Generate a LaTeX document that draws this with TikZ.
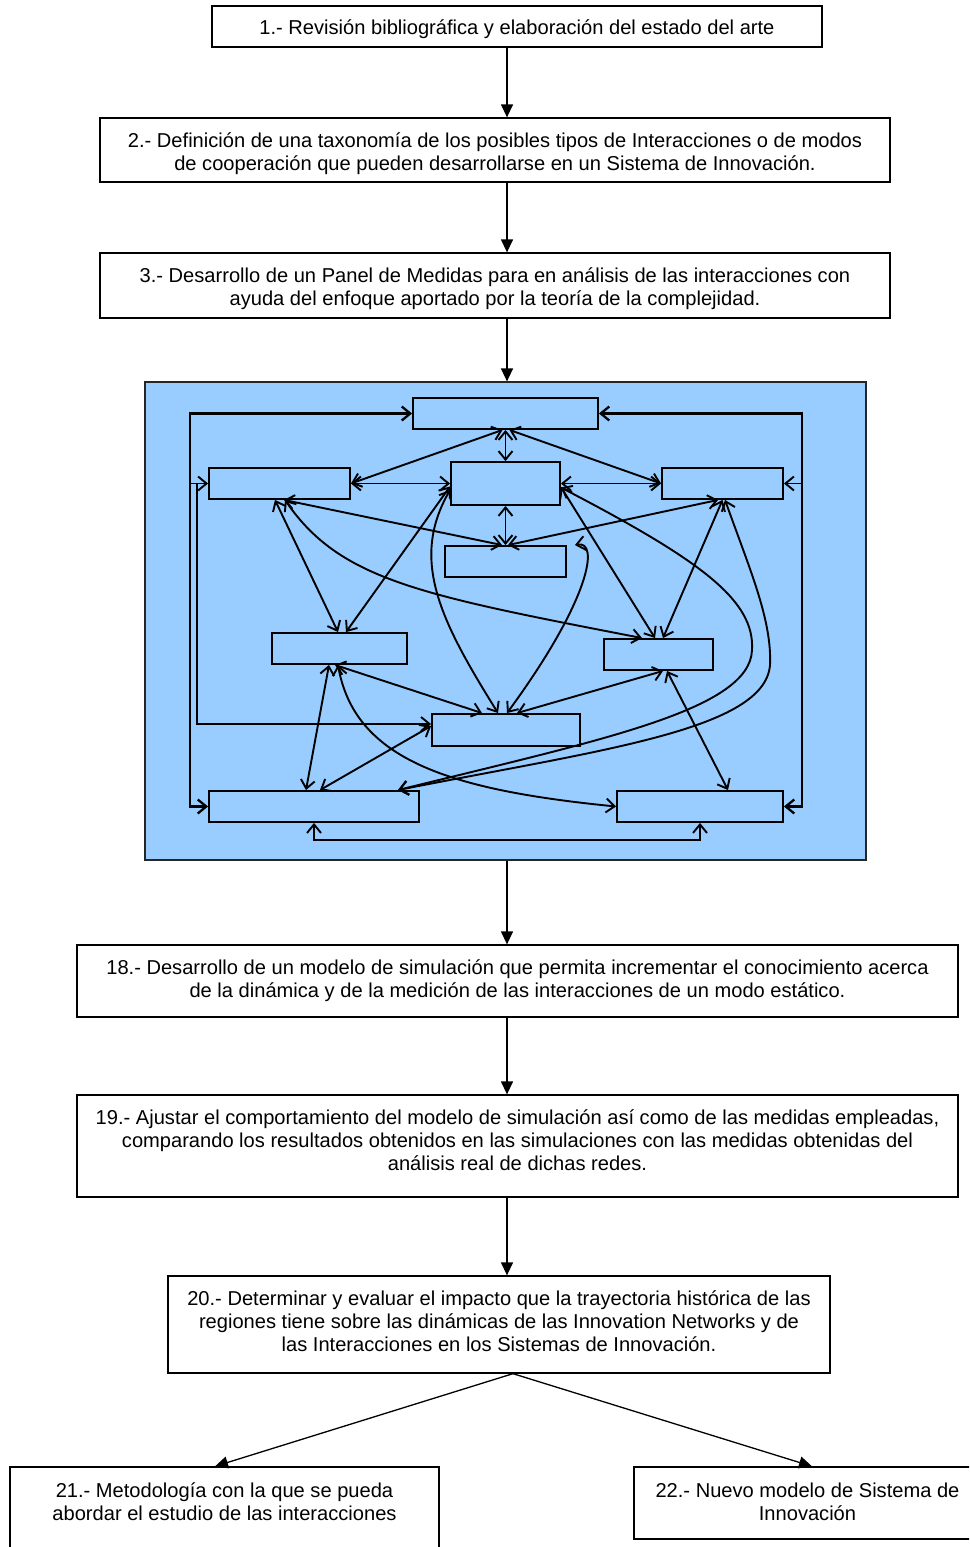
\documentclass[tikz,border=0pt]{standalone}
\usepackage{fontspec}
\setmainfont{Liberation Sans}
\usetikzlibrary{arrows.meta,calc}
\definecolor{panelblue}{HTML}{99CCFF}

\begin{document}
\begin{tikzpicture}[x=1pt,y=1pt,
  stepbox/.style={draw=black, line width=1.3pt, fill=white, inner sep=0pt},
  steptext/.style={align=center, inner sep=0pt, font=\fontsize{20.1}{23}\selectfont},
  flow/.style={line width=1.3pt, -{Triangle[length=13pt,width=12pt]}},
  panel/.style={draw=black!85, line width=1.2pt, fill=panelblue, inner sep=0pt},
  cell/.style={draw=black, line width=1.9pt, fill=panelblue, inner sep=0pt},
  link/.style={line width=1.9pt, {Straight Barb[length=8.5pt,width=14pt]}-{Straight Barb[length=8.5pt,width=14pt]}},
  linkto/.style={line width=1.9pt, -{Straight Barb[length=8.5pt,width=14pt]}},
]
\useasboundingbox (0,0) rectangle (969,-1547);
\clip (0,0) rectangle (969,-1547);

% main sequence of steps: frames, then their texts
\node[stepbox, minimum width=610pt, minimum height=41pt] (b1) at (517,-26.5) {};
\node[steptext] (t1) at ([yshift=-3pt]b1.center)
  {1.- Revisión bibliográfica y elaboración del estado del arte};
\node[stepbox, minimum width=790pt, minimum height=64pt] (b2) at (495,-150) {};
\node[steptext] (t2) at ([yshift=-4pt]b2.center)
  {2.- Definición de una taxonomía de los posibles tipos de Interacciones o de modos\\
   de cooperación que pueden desarrollarse en un Sistema de Innovación.};
\node[stepbox, minimum width=790pt, minimum height=65pt] (b3) at (495,-285.5) {};
\node[steptext] (t3) at ([yshift=-3.5pt]b3.center)
  {3.- Desarrollo de un Panel de Medidas para en análisis de las interacciones con\\
   ayuda del enfoque aportado por la teoría de la complejidad.};
\node[panel, minimum width=721pt, minimum height=478pt] (panel) at (505.5,-621) {};
\node[stepbox, minimum width=881pt, minimum height=72pt] (b18) at (517.5,-981) {};
\node[steptext] (t18) at (b18.center)
  {18.- Desarrollo de un modelo de simulación que permita incrementar el conocimiento acerca\\
   de la dinámica y de la medición de las interacciones de un modo estático.};
\node[stepbox, minimum width=881pt, minimum height=102pt] (b19) at (517.5,-1146) {};
\node[steptext] (t19) at ([yshift=6pt]b19.center)
  {19.- Ajustar el comportamiento del modelo de simulación así como de las medidas empleadas,\\
   comparando los resultados obtenidos en las simulaciones con las medidas obtenidas del\\
   análisis real de dichas redes.};
\node[stepbox, minimum width=662pt, minimum height=97pt] (b20) at (499,-1324.5) {};
\node[steptext] (t20) at ([yshift=3pt]b20.center)
  {20.- Determinar y evaluar el impacto que la trayectoria histórica de las\\
   regiones tiene sobre las dinámicas de las Innovation Networks y de\\
   las Interacciones en los Sistemas de Innovación.};
\node[stepbox, minimum width=429pt, minimum height=93pt] (b21) at (224.5,-1513.5) {};
\node[steptext] (t21) at ([yshift=12pt]b21.center)
  {21.- Metodología con la que se pueda\\ abordar el estudio de las interacciones};
\node[stepbox, minimum width=351pt, minimum height=72pt] (b22) at (809.5,-1503) {};
\node[steptext] (t22) at ([xshift=-2pt,yshift=1.5pt]b22.center)
  {22.- Nuevo modelo de Sistema de\\ Innovación};

% arrows between steps
\coordinate (spine) at (507,0);
\draw[flow] (b1.south -| spine) -- (b2.north -| spine);
\draw[flow] (b2.south -| spine) -- (b3.north -| spine);
\draw[flow] (b3.south -| spine) -- (panel.north -| spine);
\draw[flow] (panel.south -| spine) -- (b18.north -| spine);
\draw[flow] (b18.south -| spine) -- (b19.north -| spine);
\draw[flow] (b19.south -| spine) -- (b20.north -| spine);
\coordinate (fork) at ([xshift=14pt]b20.south);
\draw[flow] (fork) -- ([xshift=-9.5pt]b21.north);
\draw[flow] (fork) -- ([xshift=2.5pt]b22.north);

% interaction panel cells
\node[cell, minimum width=185pt, minimum height=31pt] (A) at (505.5,-413.5) {};
\node[cell, minimum width=141pt, minimum height=31pt] (B) at (279.5,-483.5) {};
\node[cell, minimum width=109pt, minimum height=43pt] (C) at (505.5,-483.5) {};
\node[cell, minimum width=121pt, minimum height=31pt] (D) at (722.5,-483.5) {};
\node[cell, minimum width=121pt, minimum height=31pt] (E) at (505.5,-561.5) {};
\node[cell, minimum width=135pt, minimum height=31pt] (F) at (339.5,-648.5) {};
\node[cell, minimum width=109pt, minimum height=31pt] (G) at (658.5,-654.5) {};
\node[cell, minimum width=148pt, minimum height=32pt] (H) at (506,-730) {};
\node[cell, minimum width=210pt, minimum height=31pt] (I) at (314,-806.5) {};
\node[cell, minimum width=166pt, minimum height=31pt] (J) at (700,-806.5) {};

% outer feedback loops
\coordinate (lx) at (190,0);
\coordinate (lx2) at (197,0);
\coordinate (rx) at (802,0);
\coordinate (Hin) at ([yshift=6pt]H.west);
\draw[link, line width=2.3pt] (A.west) -- (A.west -| lx) -- (I.west -| lx) -- (I.west);
\draw[link] (B.west) -- (B.west -| lx) -- (B.west -| lx2) -- (Hin -| lx2) -- (Hin);
\draw[link, line width=2.3pt] (A.east) -- (A.east -| rx) -- (J.east -| rx) -- (J.east);
\draw[linkto] (D.east -| rx) -- (D.east);
\draw[link] (I.south) -- ++(0,-17) -| (J.south);

% straight links
\draw[link] (A.south) -- (C.north);
\draw[link] (C.south) -- (E.north);
\draw[link] ([xshift=-3pt]A.south) -- (B.east);
\draw[link] ([xshift=4pt]A.south) -- (D.west);
\draw[link] (B.east) -- (C.west);
\draw[link] (C.east) -- (D.west);
\draw[link] ([xshift=4.5pt]B.south) -- ([xshift=-3.5pt]E.north);
\draw[link] ([xshift=-4.5pt]D.south) -- ([xshift=2.5pt]E.north);
\draw[link] ([xshift=-4.5pt]B.south) -- ([xshift=-1.5pt]F.north);
\draw[link] ([xshift=6.5pt]F.north) -- ([yshift=-3pt]C.west);
\draw[link] ([xshift=-4.5pt]F.south) -- ([xshift=-24pt]H.north);
\draw[link] ([xshift=4.5pt]G.south) -- ([xshift=11pt]H.north);
\draw[link] ([yshift=-3.5pt]C.east) -- ([xshift=-3.5pt]G.north);
\draw[link] (D.south) -- ([xshift=4.5pt]G.north);
\draw[link] ([xshift=8.5pt]G.south) -- ([xshift=28pt]J.north);
\draw[link] ([xshift=-10.5pt]F.south) -- ([xshift=-8pt]I.north);
\draw[link] ([yshift=4pt]H.west) -- ([xshift=6pt]I.north);

% curved links
\draw[link] ([xshift=5.5pt]B.south) .. controls (340,-580) and (420,-595) .. ([xshift=-16.5pt]G.north);
\draw[link] ([yshift=-6.5pt]C.west) .. controls (410,-560) and (440,-620) .. ([xshift=-8pt]H.north);
\draw[link] ([xshift=8pt]E.north east) .. controls (600,-540) and (590,-600) .. ([xshift=1pt]H.north);
\draw[link] ([yshift=-4pt]C.east) .. controls (700,-560) and (755,-600) .. (752,-650)
  .. controls (750,-710) and (600,-740) .. ([xshift=84pt]I.north);
\draw[link] ([xshift=2.5pt]D.south) .. controls (750,-570) and (772,-620) .. (770,-665)
  .. controls (765,-730) and (600,-750) .. ([xshift=84pt]I.north);
\draw[link] ([xshift=-1.5pt]F.south) .. controls (355,-760) and (450,-790) .. (J.west);
\end{tikzpicture}
\end{document}
